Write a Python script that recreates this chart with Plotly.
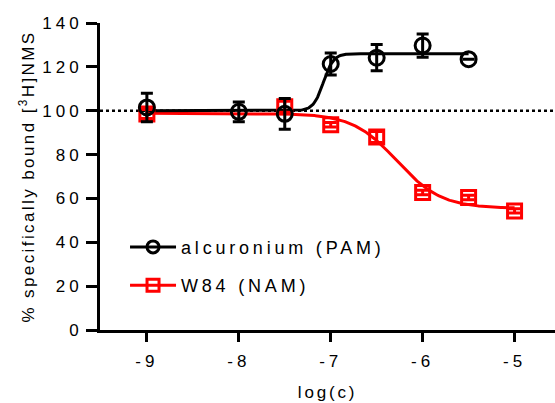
import numpy as np
import plotly.graph_objects as go

# Data
pam_x = [-9, -8, -7.5, -7, -6.5, -6, -5.5]
pam_y = [101.5, 99.5, 98.6, 121.3, 124.2, 129.7, 123.5]
pam_err = [6.5, 4.5, 7.0, 5.0, 6.0, 5.3, 0.0]

nam_x = [-9, -7.5, -7, -6.5, -6, -5.5, -5]
nam_y = [98.5, 101.8, 93.6, 88.0, 62.7, 60.4, 54.3]
nam_err = [2.0, 2.5, 1.0, 2.5, 1.0, 1.0, 1.0]

x_ticks = [-9, -8, -7, -6, -5]
y_ticks = [0, 20, 40, 60, 80, 100, 120, 140]

# Fitted sigmoid parameters (bottom, top, logEC50, hill)
pam_fit = dict(bottom=100.0, top=126.0, logec50=-7.08, hill=8.0)
nam_fit = dict(bottom=55.5, top=98.8, logec50=-6.28, hill=-1.8)

def sigmoid(x, p):
    return p["bottom"] + (p["top"] - p["bottom"]) / (1 + 10 ** ((p["logec50"] - x) * p["hill"]))

xc_pam = np.linspace(-9, -5.5, 400)
xc_nam = np.linspace(-9, -5, 400)

font = "Liberation Sans, Arial, sans-serif"
fig = go.Figure()

# reference line at 100
fig.add_trace(go.Scatter(x=[-9.51, -4.56], y=[100, 100], mode="lines",
                         line=dict(color="black", width=2.5, dash="dot"),
                         showlegend=False, hoverinfo="skip"))

fig.add_trace(go.Scatter(x=xc_nam, y=sigmoid(xc_nam, nam_fit), mode="lines",
                         line=dict(color="red", width=3), showlegend=False))
fig.add_trace(go.Scatter(x=xc_pam, y=sigmoid(xc_pam, pam_fit), mode="lines",
                         line=dict(color="black", width=3), showlegend=False))

fig.add_trace(go.Scatter(x=nam_x, y=nam_y, mode="markers",
                         marker=dict(symbol="square-open", size=14, color="red", line=dict(width=3, color="red")),
                         error_y=dict(type="data", array=nam_err, color="red", thickness=3, width=6),
                         showlegend=False))
fig.add_trace(go.Scatter(x=pam_x, y=pam_y, mode="markers",
                         marker=dict(symbol="circle-open", size=15, color="black", line=dict(width=3, color="black")),
                         error_y=dict(type="data", array=pam_err, color="black", thickness=3, width=6),
                         showlegend=False))

# legend entries
fig.add_trace(go.Scatter(x=[None], y=[None], mode="lines+markers", name="alcuronium (PAM)",
                         legendgroup="a",
                         line=dict(color="black", width=3),
                         marker=dict(symbol="circle-open", size=12, color="black", line=dict(width=3, color="black"))))
fig.add_trace(go.Scatter(x=[None], y=[None], mode="lines+markers", name="W84 (NAM)",
                         legendgroup="b",
                         line=dict(color="red", width=3),
                         marker=dict(symbol="square-open", size=12, color="red", line=dict(width=3, color="red"))))

fig.update_layout(
    width=555, height=403,
    margin=dict(l=100, r=0, t=23, b=73),
    plot_bgcolor="white", paper_bgcolor="white",
    font=dict(family=font, size=17, color="black"),
    legend=dict(x=0.055, y=0.33, xanchor="left", yanchor="top", bgcolor="rgba(0,0,0,0)",
                font=dict(size=18), tracegroupgap=12, traceorder="grouped", itemwidth=46),
    xaxis=dict(range=[-9.51, -4.56], tickvals=x_ticks, ticktext=[str(v) for v in x_ticks],
               showline=True, linewidth=3, linecolor="black", ticks="outside", ticklen=9, tickwidth=3,
               tickcolor="black", showgrid=False, zeroline=False, ticklabelstandoff=5,
               title=dict(text="log(c)", standoff=16, font=dict(size=17))),
    yaxis=dict(range=[0, 140], tickvals=y_ticks,
               showline=True, linewidth=3, linecolor="black", ticks="outside", ticklen=11, tickwidth=3,
               tickcolor="black", showgrid=False, zeroline=False,
               title=dict(text="% specifically bound [<sup>3</sup>H]NMS", standoff=16, font=dict(size=17))),
)

post = """
var gd = document.getElementById('{plot_id}');
function sp(sel, v){ gd.querySelectorAll(sel).forEach(function(t){ t.style.letterSpacing = v; }); }
sp('.xtick text', '4px');
sp('.ytick text', '4px');
sp('.legendtext', '3.8px');
sp('.g-xtitle text', '2.8px');
sp('.g-ytitle text', '2.4px');
gd.querySelectorAll('.legend [clip-path]').forEach(function(e){ e.removeAttribute('clip-path'); });
"""

fig.write_html("out.html", post_script=post)
